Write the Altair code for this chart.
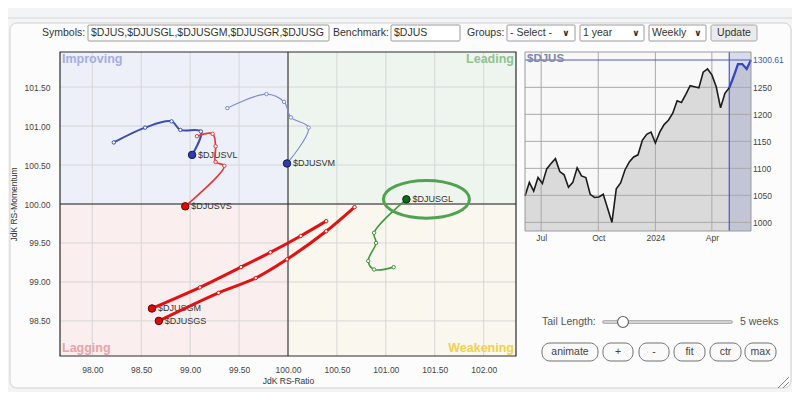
import altair as alt
import pandas as pd

# ---------------- RRG data (JdK RS-Ratio / JdK RS-Momentum, oldest -> latest) ----------------
symbols = ["$DJUSVL", "$DJUSVM", "$DJUSVS", "$DJUSGM", "$DJUSGS", "$DJUSGL"]
vl_ratio = [98.22, 98.54, 98.81, 98.90, 99.11, 99.02]
vl_momentum = [100.79, 100.98, 101.06, 100.95, 100.93, 100.63]
vm_ratio = [99.38, 99.78, 99.96, 100.03, 100.21, 99.99]
vm_momentum = [101.23, 101.41, 101.31, 101.11, 100.98, 100.52]
vs_ratio = [99.07, 99.23, 99.26, 99.26, 99.35, 98.95]
vs_momentum = [100.87, 100.90, 100.74, 100.54, 100.49, 99.97]
gm_ratio = [100.39, 100.13, 99.82, 99.52, 99.10, 98.61]
gm_momentum = [99.78, 99.59, 99.38, 99.19, 98.93, 98.66]
gs_ratio = [100.68, 100.39, 99.99, 99.67, 99.29, 98.68]
gs_momentum = [99.96, 99.65, 99.29, 99.05, 98.86, 98.50]
gl_ratio = [101.08, 100.88, 100.82, 100.90, 100.88, 101.21]
gl_momentum = [99.19, 99.16, 99.27, 99.50, 99.63, 100.06]

ratio_ticks = [98.0, 98.5, 99.0, 99.5, 100.0, 100.5, 101.0, 101.5, 102.0]
momentum_ticks = [98.5, 99.0, 99.5, 100.0, 100.5, 101.0, 101.5]
ratio_domain = [97.67, 102.33]
momentum_domain = [98.05, 101.95]
quadrants = ["Improving", "Leading", "Lagging", "Weakening"]
highlight_symbol = "$DJUSGL"

# ---------------- benchmark price data (weekly) ----------------
benchmark = "$DJUS"
price_values = [1049, 1074, 1058, 1083, 1072, 1099, 1109, 1118, 1094, 1088, 1065, 1074, 1101,
                1086, 1083, 1052, 1046, 1047, 1052, 1026, 1000, 1062, 1073, 1097, 1112, 1121,
                1125, 1152, 1163, 1167, 1147, 1167, 1181, 1189, 1202, 1225, 1222, 1237, 1253,
                1251, 1249, 1278, 1284, 1273, 1251, 1212, 1239, 1249, 1270, 1293, 1293, 1284,
                1300.61]
price_dates = list(pd.date_range("2023-06-05", periods=len(price_values), freq="7D")
                   .strftime("%Y-%m-%dT00:00:00"))
price_ticks = [1000, 1050, 1100, 1150, 1200, 1250]
price_domain = [984, 1315.4]
month_ticks = ["2023-07-01T00:00:00", "2023-10-01T00:00:00", "2024-01-01T00:00:00", "2024-04-01T00:00:00"]
tail_weeks = 5

# ---------------- styles ----------------
line_colors = ["#3b4db3", "#7888d8", "#e23a3a", "#e01212", "#e01212", "#3c9a3c"]
line_widths = [2.0, 1.1, 1.7, 3.0, 3.0, 1.6]
head_fills = ["#2b3cb4", "#2b3cb4", "#dd0a0a", "#dd0a0a", "#dd0a0a", "#0e6a1c"]
head_strokes = ["#14194a", "#14194a", "#5a0505", "#5a0505", "#5a0505", "#0a2a0a"]
quad_fills = ["#eef0f9", "#eef5ee", "#fbeeee", "#faf7ef"]
quad_text = ["#a3ade3", "#8fc28f", "#eaa3a8", "#f2d04e"]
FONT = "Liberation Sans"

W, H = 456, 304

ratios = [vl_ratio, vm_ratio, vs_ratio, gm_ratio, gs_ratio, gl_ratio]
moms = [vl_momentum, vm_momentum, vs_momentum, gm_momentum, gs_momentum, gl_momentum]
rows = []
for sym, rs, ms in zip(symbols, ratios, moms):
    for i, (r, m) in enumerate(zip(rs, ms)):
        rows.append({"symbol": sym, "step": i, "ratio": r, "momentum": m, "last": i == len(rs) - 1})
rrg = pd.DataFrame(rows)

xs = alt.Scale(domain=ratio_domain, nice=False, zero=False)
ys = alt.Scale(domain=momentum_domain, nice=False, zero=False)

x_axis = alt.Axis(values=ratio_ticks, format=".2f", grid=False, domain=False, ticks=False,
                  labelFontSize=8.5, labelColor="#444", labelPadding=9, labelFlush=False,
                  title="JdK RS-Ratio", titleFontSize=8.5, titleFontWeight="normal",
                  titleColor="#333", titlePadding=3, zindex=1)
y_axis = alt.Axis(values=momentum_ticks, format=".2f", grid=False, domain=False, ticks=False,
                  labelFontSize=8.5, labelColor="#444", labelPadding=10, labelFlush=False,
                  title="JdK RS-Momentum", titleFontSize=8.5, titleFontWeight="normal",
                  titleColor="#333", titleX=-47, titleY=H / 2, titleAngle=270,
                  titleBaseline="middle", titleAlign="center", zindex=1)

quad_df = pd.DataFrame({
    "quadrant": quadrants,
    "x1": [ratio_domain[0], 100, ratio_domain[0], 100],
    "x2": [100, ratio_domain[1], 100, ratio_domain[1]],
    "y1": [100, 100, momentum_domain[0], momentum_domain[0]],
    "y2": [momentum_domain[1], momentum_domain[1], 100, 100],
})

quad_bg = alt.Chart(quad_df).mark_rect().encode(
    x=alt.X("x1:Q", scale=xs, axis=x_axis),
    x2="x2:Q",
    y=alt.Y("y1:Q", scale=ys, axis=y_axis),
    y2="y2:Q",
    fill=alt.Fill("quadrant:N", scale=alt.Scale(domain=quadrants, range=quad_fills), legend=None),
)

quad_labels = []
for q, col, xf, yf, al, bl, dy in [
    ("Improving", quad_text[0], "x1", "y2", "left", "top", 1),
    ("Leading", quad_text[1], "x2", "y2", "right", "top", 1),
    ("Lagging", quad_text[2], "x1", "y1", "left", "bottom", -1),
    ("Weakening", quad_text[3], "x2", "y1", "right", "bottom", -1),
]:
    quad_labels.append(
        alt.Chart(quad_df).transform_filter(alt.datum.quadrant == q)
        .mark_text(align=al, baseline=bl, dx=2 if al == "left" else -2, dy=dy,
                   fontSize=12.5, fontWeight="bold", color=col)
        .encode(x=alt.X(f"{xf}:Q", scale=xs), y=alt.Y(f"{yf}:Q", scale=ys), text="quadrant:N")
    )

vgrid = alt.Chart(pd.DataFrame({"t": ratio_ticks})).mark_rule(color="#d6d6d6", strokeWidth=1).encode(
    x=alt.X("t:Q", scale=xs), y=alt.value(0), y2=alt.value(H))
hgrid = alt.Chart(pd.DataFrame({"t": momentum_ticks})).mark_rule(color="#d6d6d6", strokeWidth=1).encode(
    y=alt.Y("t:Q", scale=ys), x=alt.value(0), x2=alt.value(W))
center_x = alt.Chart(pd.DataFrame({"t": [100.0]})).mark_rule(color="#222", strokeWidth=1).encode(
    x=alt.X("t:Q", scale=xs), y=alt.value(0), y2=alt.value(H))
center_y = alt.Chart(pd.DataFrame({"t": [100.0]})).mark_rule(color="#222", strokeWidth=1).encode(
    y=alt.Y("t:Q", scale=ys), x=alt.value(0), x2=alt.value(W))

border = alt.Chart(pd.DataFrame({"x1": [ratio_domain[0]], "x2": [ratio_domain[1]],
                                 "y1": [momentum_domain[0]], "y2": [momentum_domain[1]]})) \
    .mark_rect(fillOpacity=0, stroke="#2a2a2a", strokeWidth=1.2).encode(
    x=alt.X("x1:Q", scale=xs), x2="x2:Q", y=alt.Y("y1:Q", scale=ys), y2="y2:Q")

sym_labels = alt.Chart(rrg).transform_filter(alt.datum.last).mark_text(
    align="left", baseline="middle", dx=6, fontSize=9, color="#333").encode(
    x=alt.X("ratio:Q", scale=xs), y=alt.Y("momentum:Q", scale=ys), text="symbol:N")

trails = alt.Chart(rrg).mark_line(interpolate="catmull-rom").encode(
    x=alt.X("ratio:Q", scale=xs), y=alt.Y("momentum:Q", scale=ys),
    color=alt.Color("symbol:N", scale=alt.Scale(domain=symbols, range=line_colors), legend=None),
    strokeWidth=alt.StrokeWidth("symbol:N", scale=alt.Scale(type="ordinal", domain=symbols, range=line_widths),
                                legend=None),
    detail="symbol:N", order="step:Q")

tail_pts = alt.Chart(rrg).transform_filter(~alt.datum.last).mark_point(
    filled=False, fill="white", size=12, strokeWidth=1, opacity=1).encode(
    x=alt.X("ratio:Q", scale=xs), y=alt.Y("momentum:Q", scale=ys),
    color=alt.Color("symbol:N", scale=alt.Scale(domain=symbols, range=line_colors), legend=None))

heads = alt.Chart(rrg).transform_filter(alt.datum.last).mark_point(
    filled=True, size=56, strokeWidth=1, opacity=1, shape="circle").encode(
    x=alt.X("ratio:Q", scale=xs), y=alt.Y("momentum:Q", scale=ys),
    fill=alt.Fill("symbol:N", scale=alt.Scale(domain=symbols, range=head_fills), legend=None),
    stroke=alt.Stroke("symbol:N", scale=alt.Scale(domain=symbols, range=head_strokes), legend=None))

ellipse_path = ("M -1 0 C -1 -0.243 -0.5523 -0.44 0 -0.44 C 0.5523 -0.44 1 -0.243 1 0 "
                "C 1 0.243 0.5523 0.44 0 0.44 C -0.5523 0.44 -1 0.243 -1 0 Z")
highlight = alt.Chart(rrg).transform_filter(alt.datum.last & (alt.datum.symbol == highlight_symbol)) \
    .mark_point(shape=ellipse_path, size=7400, filled=False, strokeWidth=3, color="#4fa24f",
                opacity=1, xOffset=20).encode(
    x=alt.X("ratio:Q", scale=xs), y=alt.Y("momentum:Q", scale=ys))

rrg_layer = alt.layer(
    quad_bg, vgrid, hgrid, center_x, center_y, *quad_labels, border,
    sym_labels, trails, tail_pts, heads, highlight
).resolve_scale(color="independent", fill="independent", stroke="independent",
                strokeWidth="independent")

# ---------------- price panel ----------------
tail_idx = len(price_values) - 1 - tail_weeks
pdf = pd.DataFrame({"date": price_dates, "price": price_values, "week": list(range(len(price_values)))})

def dt(s):
    d = pd.Timestamp(s)
    return alt.DateTime(year=d.year, month=d.month, date=d.day)

px = alt.Scale(domain=[dt(price_dates[0]), dt(price_dates[-1])], range=[465, 691], nice=False)
py = alt.Scale(domain=price_domain, range=[179, 0], nice=False, zero=False)

frame_df = pd.DataFrame({"start": [price_dates[0]], "end": [price_dates[-1]],
                         "top": [price_domain[1]], "bottom": [price_domain[0]],
                         "name": [benchmark], "last": [price_values[-1]]})
tail_df = pd.DataFrame({"start": [price_dates[tail_idx]], "end": [price_dates[-1]],
                        "top": [price_domain[1]], "bottom": [price_domain[0]]})
hgrid_df = pd.DataFrame({"p": price_ticks, "start": [price_dates[0]] * len(price_ticks),
                         "end": [price_dates[-1]] * len(price_ticks)})
vgrid_df = pd.DataFrame({"m": month_ticks, "top": [price_domain[1]] * len(month_ticks),
                         "bottom": [price_domain[0]] * len(month_ticks)})

price_x_axis = alt.Axis(orient="bottom", offset=-(H - 179), values=[dt(m) for m in month_ticks],
                        labelExpr="month(datum.value) == 0 ? timeFormat(datum.value, '%Y') : timeFormat(datum.value, '%b')",
                        grid=False, domain=False, ticks=False, labelFontSize=8.5, labelColor="#444",
                        labelPadding=2, labelFlush=False, title=None, zindex=1)
price_y_axis = alt.Axis(orient="right", offset=691 - W, values=price_ticks + [price_values[-1]],
                        labelExpr="datum.value > 1290 ? format(datum.value, '.2f') : format(datum.value, 'd')",
                        labelColor={"condition": {"test": "datum.value > 1290", "value": "#4455bb"},
                                    "value": "#444"},
                        grid=False, domain=False, ticks=False, labelFontSize=8.5, labelPadding=1.5,
                        labelFlush=False, title=None, zindex=1)

# background, area and grid as one layer (grid drawn above the area)
p_bg = alt.Chart(frame_df).mark_rect(fill="#f8f8f8").encode(
    x=alt.X("start:T", scale=px, axis=price_x_axis), x2="end:T",
    y=alt.Y("top:Q", scale=py, axis=price_y_axis), y2="bottom:Q")

p_area = alt.Chart(pdf).mark_area(color="#dadada").encode(
    x=alt.X("date:T", scale=px),
    y=alt.Y("price:Q", scale=py),
    y2=alt.Y2Datum(price_domain[0]))

p_hgrid = alt.Chart(hgrid_df).mark_rule(color="#a9a9a9", strokeWidth=1, opacity=1).encode(
    x=alt.X("start:T", scale=px), x2="end:T", y=alt.Y("p:Q", scale=py))
p_vgrid = alt.Chart(vgrid_df).mark_rule(color="#a9a9a9", strokeWidth=1, opacity=1).encode(
    x=alt.X("m:T", scale=px), y=alt.Y("top:Q", scale=py), y2="bottom:Q")

p_tail_rect = alt.Chart(tail_df).mark_rect(color="#7480c8", opacity=0.24).encode(
    x=alt.X("start:T", scale=px), x2="end:T", y=alt.Y("top:Q", scale=py), y2="bottom:Q")
p_tail_rule = alt.Chart(tail_df).mark_rule(color="#4a58c2", strokeWidth=1.2).encode(
    x=alt.X("start:T", scale=px), y=alt.Y("top:Q", scale=py), y2="bottom:Q")
p_last_rule = alt.Chart(frame_df).mark_rule(color="#4a58c2", strokeWidth=1.2).encode(
    y=alt.Y("last:Q", scale=py), x=alt.X("start:T", scale=px), x2="end:T")

p_line = alt.Chart(pdf).transform_filter(alt.datum.week <= tail_idx).mark_line(
    color="#1c1c1c", strokeWidth=1.6).encode(
    x=alt.X("date:T", scale=px), y=alt.Y("price:Q", scale=py))
p_line_tail = alt.Chart(pdf).transform_filter(alt.datum.week >= tail_idx).mark_line(
    color="#3447c5", strokeWidth=2.3).encode(
    x=alt.X("date:T", scale=px), y=alt.Y("price:Q", scale=py))

p_border = alt.Chart(frame_df).mark_rect(fillOpacity=0, stroke="#9a9a9a", strokeWidth=1).encode(
    x=alt.X("start:T", scale=px), x2="end:T", y=alt.Y("top:Q", scale=py), y2="bottom:Q")
p_name = alt.Chart(frame_df).mark_text(align="left", baseline="top", dx=2, dy=1, fontSize=11.5,
                                       fontWeight="bold", color="#8287a8").encode(
    x=alt.X("start:T", scale=px), y=alt.Y("top:Q", scale=py), text="name:N")

price_layer = alt.layer(p_bg, p_area, p_tail_rect, p_hgrid, p_vgrid, p_tail_rule, p_last_rule,
                        p_line, p_line_tail, p_border, p_name)

# ---------------- page chrome (toolbar, controls) ----------------
one = pd.DataFrame({"k": [0]})

def box(x1, x2, y1, y2, **kw):
    return alt.Chart(one).mark_rect(**kw).encode(
        x=alt.value(x1), x2=alt.value(x2), y=alt.value(y1), y2=alt.value(y2))

def txt(x, y, s, **kw):
    kw.setdefault("fontSize", 10.5)
    kw.setdefault("color", "#333")
    kw.setdefault("align", "left")
    kw.setdefault("baseline", "middle")
    return alt.Chart(one).mark_text(text=s, **kw).encode(x=alt.value(x), y=alt.value(y))

def seg(x1, y1, x2, y2, **kw):
    return alt.Chart(one).mark_rule(**kw).encode(
        x=alt.value(x1), y=alt.value(y1), x2=alt.value(x2), y2=alt.value(y2))

chrome_bg = [
    seg(-52, -34, 732, -34, color="#d8d8d8", strokeWidth=1),
    box(-50, 731, -29, 336, fill="#fcfcfc", stroke="#d0d0d0", strokeWidth=1, cornerRadius=7),
]

ty, t1, t2 = -19, -27, -11
inp = dict(fill="white", stroke="#9a9a9a", strokeWidth=1, cornerRadius=1)
chev = dict(fontSize=9, font="DejaVu Sans", fontWeight="bold", color="#333", align="center")
chrome_fg = [
    txt(-18, ty, "Symbols:"),
    box(28, 269, t1, t2, **inp),
    txt(31, ty, ",".join(["$DJUS", "$DJUSGL", "$DJUSGM", "$DJUSGR", "$DJUSGS"]), limit=237, ellipsis=" "),
    txt(273, ty, "Benchmark:"),
    box(331, 400, t1, t2, **inp),
    txt(334, ty, benchmark),
    txt(407, ty, "Groups:"),
    box(447, 515, t1, t2, **inp), txt(450, ty, "- Select -"), txt(506, ty, "∨", **chev),
    box(520, 584, t1, t2, **inp), txt(523, ty, "1 year"), txt(576, ty, "∨", **chev),
    box(589, 646, t1, t2, **inp), txt(592, ty, "Weekly"), txt(638, ty, "∨", **chev),
    box(651, 697, t1, t2, fill="#ebebeb", stroke="#a5a5a5", strokeWidth=1, cornerRadius=2),
    txt(674, ty, "Update", align="center"),
    # tail length slider
    txt(482, 270, "Tail Length:", color="#555"),
    seg(544, 270, 671, 270, color="#9a9a9a", strokeWidth=3.5, strokeCap="round"),
    seg(544, 270, 671, 270, color="#e4e4e4", strokeWidth=1.5, strokeCap="round"),
    alt.Chart(one).mark_point(shape="circle", filled=True, fill="white", stroke="#666",
                              strokeWidth=1.2, size=120, opacity=1).encode(x=alt.value(563), y=alt.value(270)),
    txt(680, 270, f"{tail_weeks} weeks", color="#555"),
]
btn = dict(fill="#fafafa", stroke="#707070", strokeWidth=1, cornerRadius=8)
for lab, a, b in [("animate", 482, 538), ("+", 543, 573), ("-", 579, 609),
                  ("fit", 614, 645), ("ctr", 650, 681), ("max", 685, 716)]:
    chrome_fg.append(box(a, b, 291, 309, **btn))
    chrome_fg.append(txt((a + b) / 2, 300, lab, align="center", color="#444"))
chrome_fg += [
    seg(729, 325, 718, 336, color="#888", strokeWidth=1),
    seg(729, 330, 723, 336, color="#888", strokeWidth=1),
]

chart = alt.layer(*chrome_bg, rrg_layer, price_layer, *chrome_fg).resolve_scale(
    x="independent", y="independent"
).properties(
    width=W, height=H,
    autosize=alt.AutoSizeParams(type="none"),
    padding={"left": 52, "top": 44, "right": 276, "bottom": 36},
    background="#f3f4f6",
).configure(font=FONT).configure_view(stroke=None)

chart.save("out.html", embed_options={"renderer": "svg", "actions": False})
